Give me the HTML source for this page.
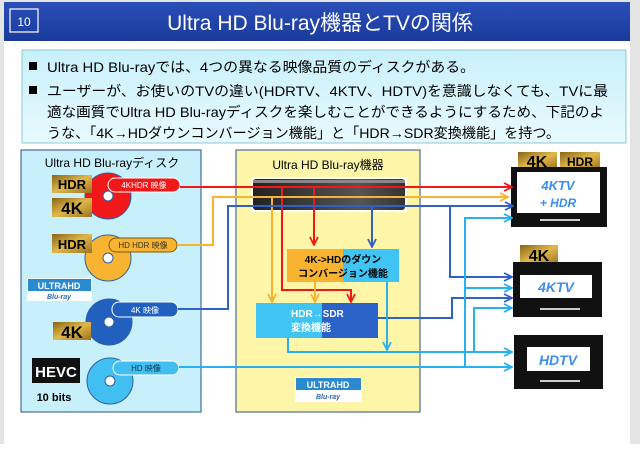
<!DOCTYPE html>
<html><head><meta charset="utf-8"><style>
body{margin:0;width:640px;height:444px;overflow:hidden;background:#fff;font-family:"Liberation Sans","Noto Sans CJK JP",sans-serif}
</style></head><body>
<svg width="640" height="444" viewBox="0 0 640 444" xmlns="http://www.w3.org/2000/svg" font-family="Liberation Sans, Noto Sans CJK JP, sans-serif">
<defs>
<linearGradient id="hd" x1="0" y1="0" x2="0" y2="1"><stop offset="0" stop-color="#2a4fb8"/><stop offset="1" stop-color="#1a3a9c"/></linearGradient>
<linearGradient id="info" x1="0" y1="0" x2="0" y2="1"><stop offset="0" stop-color="#c8f0fa"/><stop offset="1" stop-color="#e8fafe"/></linearGradient>
<linearGradient id="gold" x1="0" y1="0" x2="1" y2="1"><stop offset="0" stop-color="#8a6418"/><stop offset=".5" stop-color="#e0b84a"/><stop offset="1" stop-color="#9a7020"/></linearGradient>
<linearGradient id="pl" x1="0" y1="0" x2="1" y2="0"><stop offset="0" stop-color="#222"/><stop offset=".7" stop-color="#555"/><stop offset="1" stop-color="#333"/></linearGradient>
<marker id="r" viewBox="0 0 10 10" refX="9" refY="5" markerWidth="5" markerHeight="5" orient="auto"><path d="M1,1 L9,5 L1,9" fill="none" stroke="#f01818" stroke-width="1.8"/></marker>
<marker id="o" viewBox="0 0 10 10" refX="9" refY="5" markerWidth="5" markerHeight="5" orient="auto"><path d="M1,1 L9,5 L1,9" fill="none" stroke="#f8b430" stroke-width="1.8"/></marker>
<marker id="b" viewBox="0 0 10 10" refX="9" refY="5" markerWidth="5" markerHeight="5" orient="auto"><path d="M1,1 L9,5 L1,9" fill="none" stroke="#3060c8" stroke-width="1.8"/></marker>
<marker id="l" viewBox="0 0 10 10" refX="9" refY="5" markerWidth="5" markerHeight="5" orient="auto"><path d="M1,1 L9,5 L1,9" fill="none" stroke="#28b0f0" stroke-width="1.8"/></marker>
</defs>
<rect x="0" y="0" width="640" height="444" fill="#e4e4e4"/>
<rect x="4" y="2" width="626" height="442" fill="#fff"/>
<rect x="4" y="2" width="626" height="39" fill="url(#hd)"/>
<rect x="10" y="9" width="28" height="23" fill="none" stroke="#fff" stroke-width="1.2"/>
<text x="24" y="26" fill="#fff" font-size="12" text-anchor="middle">10</text>
<text x="320" y="30" fill="#fff" font-size="21" text-anchor="middle">Ultra HD Blu-ray機器とTVの関係</text>
<rect x="22" y="50" width="604" height="93" fill="url(#info)" stroke="#8cc8d8"/>
<g font-size="14" fill="#000">
<rect x="29" y="62" width="8" height="8"/><text x="47" y="72" textLength="428" lengthAdjust="spacingAndGlyphs">Ultra HD Blu-rayでは、4つの異なる映像品質のディスクがある。</text>
<rect x="29" y="86" width="8" height="8"/><text x="47" y="96" textLength="561" lengthAdjust="spacingAndGlyphs">ユーザーが、お使いのTVの違い(HDRTV、4KTV、HDTV)を意識しなくても、TVに最</text>
<text x="47" y="117" textLength="557" lengthAdjust="spacingAndGlyphs">適な画質でUltra HD Blu-rayディスクを楽しむことができるようにするため、下記のよ</text>
<text x="47" y="138" textLength="513" lengthAdjust="spacingAndGlyphs">うな、「4K→HDダウンコンバージョン機能」と「HDR→SDR変換機能」を持つ。</text>
</g>
<rect x="21" y="150" width="180" height="262" fill="#c8f0fb" stroke="#4a6a98" stroke-width="1.2"/>
<rect x="236" y="150" width="184" height="262" fill="#fdf6a8" stroke="#4a6a98" stroke-width="1.2"/>
<text x="112" y="167" font-size="12" text-anchor="middle">Ultra HD Blu-rayディスク</text>
<text x="328" y="169" font-size="12" text-anchor="middle">Ultra HD Blu-ray機器</text>
<rect x="251" y="177" width="156" height="35" fill="#fff"/>
<rect x="253" y="179" width="152" height="31" rx="3" fill="url(#pl)"/>
<rect x="253" y="180" width="152" height="3" fill="#888"/>
<g stroke="#2d5fa8" stroke-width="1">
<circle cx="108" cy="196" r="23" fill="#f01818"/><circle cx="108" cy="258" r="23" fill="#f8b430"/>
<circle cx="109" cy="322" r="23" fill="#2260c0"/><circle cx="110" cy="381" r="23" fill="#40bff0"/>
<circle cx="108" cy="196" r="5" fill="#fff"/><circle cx="108" cy="258" r="5" fill="#fff"/>
<circle cx="109" cy="322" r="5" fill="#fff"/><circle cx="110" cy="381" r="5" fill="#fff"/>
</g>
<g font-size="8" text-anchor="middle">
<rect x="108" y="178" width="72" height="14" rx="7" fill="#f01818" stroke="#fff"/><text x="144" y="188" fill="#fff">4KHDR 映像</text>
<rect x="109" y="238" width="68" height="14" rx="7" fill="#f8b430" stroke="#7a5a10"/><text x="143" y="248" fill="#333">HD HDR 映像</text>
<rect x="112" y="302" width="66" height="15" rx="7" fill="#2260c0" stroke="#fff"/><text x="145" y="313" fill="#fff">4K 映像</text>
<rect x="113" y="361" width="66" height="14" rx="7" fill="#40bff0" stroke="#fff"/><text x="146" y="371" fill="#134">HD 映像</text>
</g>
<g font-weight="bold" text-anchor="middle">
<rect x="52" y="175" width="40" height="18" fill="url(#gold)"/><text x="72" y="189" font-size="13">HDR</text>
<rect x="52" y="198" width="40" height="19" fill="url(#gold)"/><text x="72" y="214" font-size="17">4K</text>
<rect x="52" y="234" width="40" height="19" fill="url(#gold)"/><text x="72" y="249" font-size="13">HDR</text>
<rect x="53" y="322" width="38" height="18" fill="url(#gold)"/><text x="72" y="338" font-size="17">4K</text>
<rect x="32" y="358" width="48" height="25" fill="#111"/><text x="56" y="377" font-size="15" fill="#fff">HEVC</text>
<text x="54" y="401" font-size="11">10 bits</text>
<rect x="518" y="152" width="39" height="18" fill="url(#gold)"/><text x="537" y="167" font-size="16">4K</text>
<rect x="560" y="152" width="40" height="18" fill="url(#gold)"/><text x="580" y="166" font-size="12">HDR</text>
<rect x="520" y="245" width="38" height="20" fill="url(#gold)"/><text x="539" y="261" font-size="16">4K</text>
</g>
<g><rect x="27" y="278" width="65" height="23" fill="#fff"/><rect x="28" y="279" width="63" height="12" fill="#2a8ad0"/><text x="59" y="289" font-size="9" fill="#fff" text-anchor="middle" font-weight="bold">ULTRAHD</text><text x="59" y="299" font-size="7" fill="#2a6ab0" text-anchor="middle" font-style="italic" font-weight="bold">Blu-ray</text></g>
<g><rect x="295" y="377" width="67" height="25" fill="#fff"/><rect x="296" y="378" width="65" height="12" fill="#2a8ad0"/><text x="328" y="388" font-size="9" fill="#fff" text-anchor="middle" font-weight="bold">ULTRAHD</text><text x="328" y="399" font-size="7" fill="#2a6ab0" text-anchor="middle" font-style="italic" font-weight="bold">Blu-ray</text></g>
<rect x="287" y="249" width="56" height="33" fill="#f8b430"/><rect x="343" y="249" width="56" height="33" fill="#40c4f4"/>
<text x="343" y="263" font-size="10" font-weight="bold" text-anchor="middle">4K-&gt;HDのダウン</text>
<text x="343" y="277" font-size="10" font-weight="bold" text-anchor="middle">コンバージョン機能</text>
<rect x="256" y="303" width="66" height="35" fill="#40c4f4"/><rect x="322" y="303" width="56" height="35" fill="#2a62c8"/>
<text x="291" y="317" font-size="10" font-weight="bold" fill="#fff">HDR→SDR</text>
<text x="291" y="331" font-size="10" font-weight="bold" fill="#fff">変換機能</text>
<g><rect x="511" y="167" width="96" height="60" fill="#111"/><rect x="517" y="172" width="83" height="41" fill="#fff"/><rect x="540" y="219" width="40" height="2" fill="#ccc"/></g>
<g><rect x="513" y="262" width="89" height="55" fill="#111"/><rect x="520" y="275" width="72" height="23" fill="#fff"/><rect x="540" y="308" width="40" height="2" fill="#ccc"/></g>
<g><rect x="514" y="335" width="89" height="54" fill="#111"/><rect x="527" y="347" width="63" height="24" fill="#fff"/><rect x="540" y="380" width="40" height="2" fill="#ccc"/></g>
<g fill="#3a8ef0" font-weight="bold" font-style="italic" text-anchor="middle">
<text x="558" y="190" font-size="13">4KTV</text><text x="558" y="207" font-size="12">+ HDR</text>
<text x="556" y="292" font-size="14">4KTV</text><text x="558" y="365" font-size="14">HDTV</text>
</g>
<g fill="none" stroke-width="2">
<path d="M180 187H512" stroke="#f01818" marker-end="url(#r)"/>
<path d="M314 187V245" stroke="#f01818" marker-end="url(#r)"/>
<path d="M282 187V290H351V302" stroke="#f01818" marker-end="url(#r)"/>
<path d="M177 245H213V197H508" stroke="#f8b430" marker-end="url(#o)"/>
<path d="M272 197V302" stroke="#f8b430" marker-end="url(#o)"/>
<path d="M315 282V302" stroke="#f8b430" marker-end="url(#o)"/>
<path d="M178 309H228V206H513" stroke="#3060c8" marker-end="url(#b)"/>
<path d="M372 206V247" stroke="#3060c8" marker-end="url(#b)"/>
<path d="M450 206V277H512" stroke="#3060c8" marker-end="url(#b)"/>
<path d="M378 318H452V298H512" stroke="#3060c8" marker-end="url(#b)"/>
<path d="M179 367H512" stroke="#28b0f0" marker-end="url(#l)"/>
<path d="M465 367V218H512" stroke="#28b0f0" marker-end="url(#l)"/>
<path d="M465 288H512" stroke="#28b0f0" marker-end="url(#l)"/>
<path d="M387 282V350" stroke="#28b0f0" marker-end="url(#l)"/>
<path d="M288 338V352H512" stroke="#28b0f0" marker-end="url(#l)"/>
<path d="M474 352V308H512" stroke="#28b0f0" marker-end="url(#l)"/>
</g>
</svg>
</body></html>
